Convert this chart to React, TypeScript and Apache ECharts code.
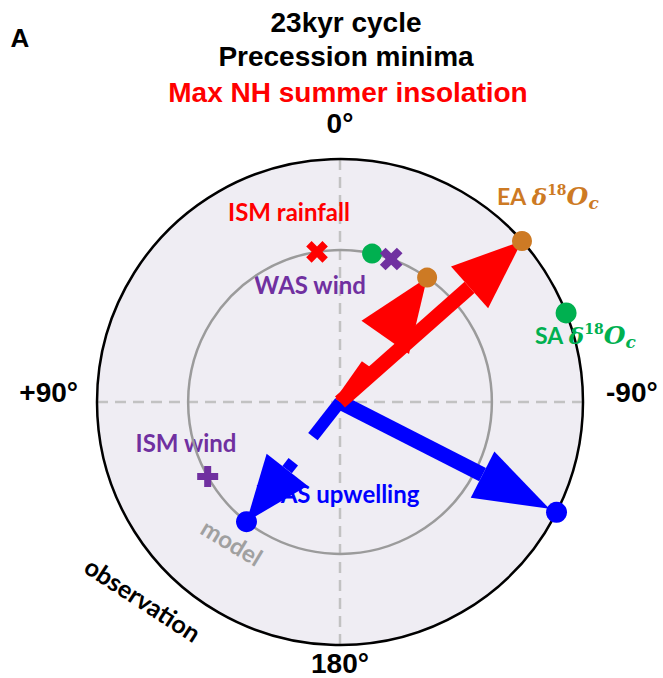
import React, { useEffect, useRef } from "react";
import * as echarts from "echarts";

// ---- data (phase in degrees, 0 = top, positive = counter-clockwise; amplitude normalised) ----
const angleTicks = [-180, -90, 0, 90];
const angleTickLabels = ["180°", "-90°", "0°", "+90°"];

const modelAmplitude = [0.625];
const observationAmplitude = [1];

const markerNames = [
  "EA δ18Oc observation",
  "SA δ18Oc observation",
  "WAS upwelling observation",
  "EA δ18Oc model",
  "SA δ18Oc model",
  "WAS upwelling model",
  "ISM rainfall model",
  "WAS wind model",
  "ISM wind model",
];
const markerRadius = [1, 1, 1, 0.625, 0.625, 0.625, 0.625, 0.625, 0.625];
const markerPhase = [-48.5, -68.5, -117, -35, -12.2, 142, 8.7, -19.7, 119.4];

const arrowNames = [
  "WAS upwelling observation",
  "WAS upwelling model",
  "EA δ18Oc observation",
  "EA δ18Oc model",
];
const arrowRadius = [1, 0.625, 1, 0.625];
const arrowPhase = [-117, 142, -48.5, -35];

const titleLines = ["23kyr cycle", "Precession minima", "Max NH summer insolation"];

// ---- styles ----
const RED = "#FF0000";
const BLUE = "#0000FF";
const PURPLE = "#7030A0";
const GREEN = "#00B050";
const ORANGE = "#CD7A24";

const PLUS =
  "path://M-1,-3 L1,-3 L1,-1 L3,-1 L3,1 L1,1 L1,3 L-1,3 L-1,1 L-3,1 L-3,-1 L-1,-1 Z";

const markerStyle: Record<string, { color: string; symbol: string; size: number; rotate: number }> = {
  "EA δ18Oc observation": { color: ORANGE, symbol: "circle", size: 20, rotate: 0 },
  "SA δ18Oc observation": { color: GREEN, symbol: "circle", size: 21, rotate: 0 },
  "WAS upwelling observation": { color: BLUE, symbol: "circle", size: 21, rotate: 0 },
  "EA δ18Oc model": { color: ORANGE, symbol: "circle", size: 20, rotate: 0 },
  "SA δ18Oc model": { color: GREEN, symbol: "circle", size: 20, rotate: 0 },
  "WAS upwelling model": { color: BLUE, symbol: "circle", size: 21, rotate: 0 },
  "ISM rainfall model": { color: RED, symbol: PLUS, size: 23, rotate: 45 },
  "WAS wind model": { color: PURPLE, symbol: PLUS, size: 24, rotate: 45 },
  "ISM wind model": { color: PURPLE, symbol: PLUS, size: 21, rotate: 0 },
};

const arrowStyle: Record<
  string,
  { color: string; shaftWidth: number; headLen: number; headWidth: number; shaftLen?: number; stub?: number; tipInset?: number }
> = {
  "WAS upwelling observation": { color: BLUE, shaftWidth: 15, headLen: 75, headWidth: 52, tipInset: 8 },
  "WAS upwelling model": { color: BLUE, shaftWidth: 12, headLen: 66, headWidth: 52, shaftLen: 44, stub: 10 },
  "EA δ18Oc observation": { color: RED, shaftWidth: 15, headLen: 70, headWidth: 56 },
  "EA δ18Oc model": { color: RED, shaftWidth: 11, headLen: 73, headWidth: 58, shaftLen: 46 },
};

const LABEL_FONT = "Lato, 'Open Sans', sans-serif";
const TITLE_FONT = "'Liberation Sans', Arial, sans-serif";
const MATH_FONT = "'DejaVu Serif', serif";

function arrowChildren(S: number[], Tin: number[], spec: any) {
  const dx = Tin[0] - S[0];
  const dy = Tin[1] - S[1];
  const L = Math.hypot(dx, dy);
  const ux = dx / L;
  const uy = dy / L;
  const nx = -uy;
  const ny = ux;
  const inset = spec.tipInset || 0;
  const T = [Tin[0] - ux * inset, Tin[1] - uy * inset];
  const B = [T[0] - ux * spec.headLen, T[1] - uy * spec.headLen];
  const sw = spec.shaftWidth / 2;
  const hw = spec.headWidth / 2;
  const E = spec.shaftLen != null ? [S[0] + ux * spec.shaftLen, S[1] + uy * spec.shaftLen] : B;
  const style = { fill: spec.color };
  const out: any[] = [
    {
      type: "polygon",
      shape: {
        points: [
          [S[0] + nx * sw, S[1] + ny * sw],
          [E[0] + nx * sw, E[1] + ny * sw],
          [E[0] - nx * sw, E[1] - ny * sw],
          [S[0] - nx * sw, S[1] - ny * sw],
        ],
      },
      style,
    },
    {
      type: "polygon",
      shape: {
        points: [
          [B[0] + nx * hw, B[1] + ny * hw],
          [T[0], T[1]],
          [B[0] - nx * hw, B[1] - ny * hw],
        ],
      },
      style,
    },
  ];
  if (spec.stub) {
    const P = [B[0] - ux * spec.stub, B[1] - uy * spec.stub];
    out.push({
      type: "polygon",
      shape: {
        points: [
          [P[0] + nx * sw, P[1] + ny * sw],
          [B[0] + nx * sw, B[1] + ny * sw],
          [B[0] - nx * sw, B[1] - ny * sw],
          [P[0] - nx * sw, P[1] - ny * sw],
        ],
      },
      style,
    });
  }
  return out;
}

function text(x: number, y: number, t: string, color: string, size: number, extra: any = {}) {
  return {
    type: "text",
    x,
    y,
    z: 1,
    rotation: extra.rotation || 0,
    style: {
      text: t,
      fill: color,
      fontSize: size,
      fontWeight: "bold",
      fontFamily: extra.fontFamily || LABEL_FONT,
      align: extra.align || "center",
      verticalAlign: "middle",
      rich: extra.rich,
    },
  };
}

function deltaRich(color: string) {
  return {
    n: { fontFamily: LABEL_FONT, fontWeight: "bold", fontSize: 23, fill: color },
    d: { fontFamily: MATH_FONT, fontStyle: "italic", fontWeight: "bold", fontSize: 23, fill: color },
    o: { fontFamily: MATH_FONT, fontStyle: "italic", fontWeight: "bold", fontSize: 25, fill: color },
    s: { fontFamily: MATH_FONT, fontWeight: "bold", fontSize: 14, fill: color, padding: [0, 0, 13, 0] },
    c: { fontFamily: MATH_FONT, fontStyle: "italic", fontWeight: "bold", fontSize: 17, fill: color, padding: [14, 0, 0, 0] },
  };
}

export default function App() {
  const ref = useRef<HTMLDivElement>(null);
  useEffect(() => {
    document.body.style.margin = "0";
    const chart = echarts.init(ref.current!, undefined, { renderer: "svg" });

    const labelFor = (v: number) => {
      const i = angleTicks.indexOf(v);
      if (i < 0) return "";
      const key = v === 0 ? "t" : v === 90 ? "l" : v === -90 ? "r" : "b";
      return `{${key}|${angleTickLabels[i]}}`;
    };
    const axisFont = { fontFamily: TITLE_FONT, fontWeight: "bold" as const, fontSize: 28, color: "#000" };

    const option: any = {
      animation: false,
      backgroundColor: "#fff",
      polar: { center: [340, 402], radius: 243 },
      angleAxis: {
        type: "value",
        min: -180,
        max: 180,
        interval: 90,
        startAngle: 270,
        clockwise: false,
        axisLine: { show: true, lineStyle: { color: "#000", width: 2.5 } },
        axisTick: { show: false },
        axisLabel: {
          show: true,
          margin: 6,
          formatter: labelFor,
          rich: {
            t: { ...axisFont, padding: [0, 0, 16, 0] },
            l: { ...axisFont, padding: [0, 13, 20, 0] },
            r: { ...axisFont, padding: [0, 0, 20, 17] },
            b: { ...axisFont, lineHeight: 22, padding: [3, 0, 0, 0] },
          },
        },
        splitLine: { show: true, lineStyle: { color: "#C2C2C2", width: 2.5, type: [11, 7] } },
        splitArea: { show: false },
      },
      radiusAxis: {
        type: "value",
        min: 0,
        max: observationAmplitude[0],
        interval: observationAmplitude[0],
        axisLine: { show: false },
        axisTick: { show: false },
        axisLabel: { show: false },
        splitLine: { show: false },
        splitArea: { show: true, areaStyle: { color: ["#EFEDF3"] } },
      },
      graphic: {
        elements: [
          text(20, 38, "A", "#000", 26, { fontFamily: TITLE_FONT }),
          text(346, 22, titleLines[0], "#000", 28, { fontFamily: TITLE_FONT }),
          text(346, 56, titleLines[1], "#000", 28, { fontFamily: TITLE_FONT }),
          text(348, 92, titleLines[2], RED, 28, { fontFamily: TITLE_FONT }),
          text(289, 211, "ISM rainfall", RED, 24),
          text(310, 284, "WAS wind", PURPLE, 24),
          text(186, 442, "ISM wind", PURPLE, 24),
          text(338, 493, "WAS upwelling", BLUE, 24),
          text(497, 196, "{n|EA }{d|δ}{s|18}{o|O}{c|c}", ORANGE, 23, { align: "left", rich: deltaRich(ORANGE) }),
          text(535, 335, "{n|SA }{d|δ}{s|18}{o|O}{c|c}", GREEN, 23, { align: "left", rich: deltaRich(GREEN) }),
          text(232, 542, "model", "#A0A0A0", 24, { rotation: (-31 * Math.PI) / 180 }),
          text(143, 599, "observation", "#000", 25, { rotation: (-33 * Math.PI) / 180 }),
        ],
      },
      series: [
        {
          type: "custom",
          name: "model amplitude",
          coordinateSystem: "polar",
          z: 2,
          silent: true,
          data: modelAmplitude.map((r) => [r, 0]),
          renderItem: (params: any, api: any) => {
            const C = api.coord([0, 0]);
            const P = api.coord([api.value(0), api.value(1)]);
            const r = Math.hypot(P[0] - C[0], P[1] - C[1]);
            return {
              type: "circle",
              shape: { cx: C[0], cy: C[1], r },
              style: { fill: "none", stroke: "#9B9B9B", lineWidth: 2.5 },
            };
          },
        },
        {
          type: "custom",
          name: "phase arrows",
          coordinateSystem: "polar",
          z: 3,
          data: arrowRadius.map((r, i) => ({ name: arrowNames[i], value: [r, arrowPhase[i]] })),
          renderItem: (params: any, api: any) => {
            const name = arrowNames[params.dataIndex];
            const S = api.coord([0, 0]);
            const T = api.coord([api.value(0), api.value(1)]);
            return { type: "group", children: arrowChildren(S, T, arrowStyle[name]) };
          },
        },
        {
          type: "scatter",
          name: "phases",
          coordinateSystem: "polar",
          z: 4,
          data: markerRadius.map((r, i) => {
            const s = markerStyle[markerNames[i]];
            return {
              name: markerNames[i],
              value: [r, markerPhase[i]],
              symbol: s.symbol,
              symbolSize: s.size,
              symbolRotate: s.rotate,
              itemStyle: { color: s.color, opacity: 1 },
            };
          }),
        },
      ],
    };
    chart.setOption(option);
    return () => chart.dispose();
  }, []);
  return <div ref={ref} style={{ position: "absolute", left: 0, top: 0, width: 663, height: 678 }} />;
}
